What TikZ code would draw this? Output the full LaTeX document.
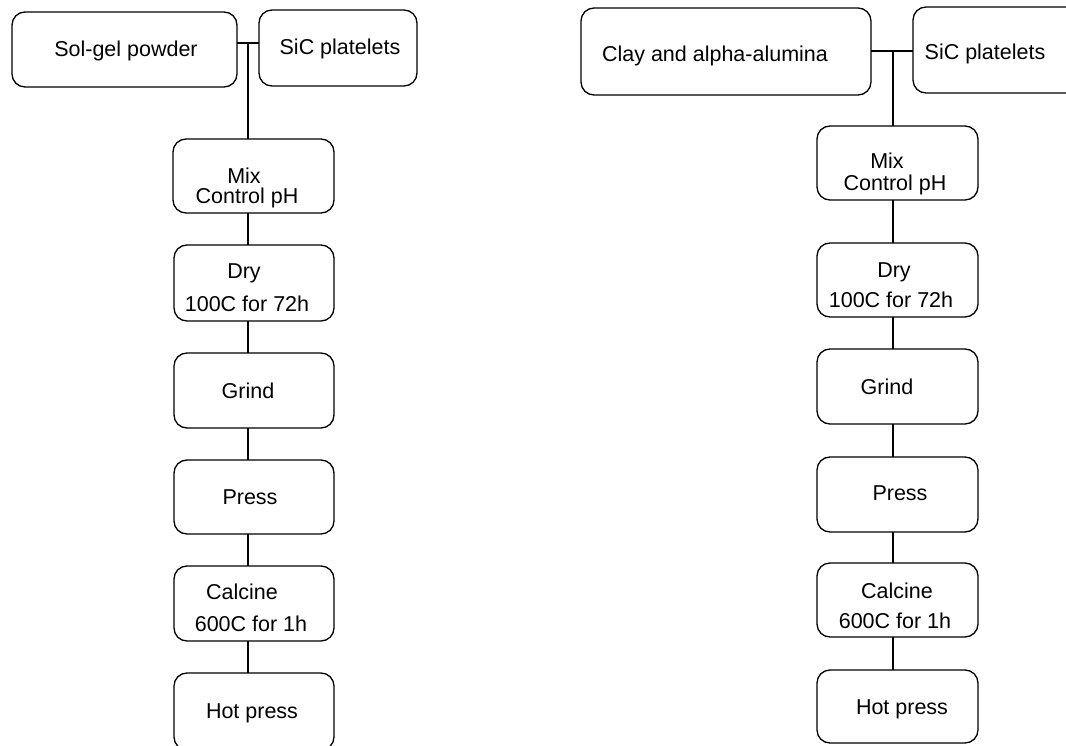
\documentclass[tikz,border=0pt]{standalone}
\usepackage{fontspec}
\setmainfont{Liberation Sans}
\begin{document}
\begin{tikzpicture}[x=1pt,y=-1pt,
  box/.style={draw, line width=1.3pt, rounded corners=13pt, inner sep=0pt, outer sep=0pt, minimum width=160pt},
  lbl/.style={anchor=base, inner sep=0pt, font=\fontsize{21.5}{25}\selectfont},
  conn/.style={line width=1.3pt}]
\useasboundingbox (0,0) rectangle (1066,746);
\clip (0,0) rectangle (1066,746);
% left column boxes
\node[box, minimum width=225pt, minimum height=75pt] (sg) at (124.5,49.5) {};
\node[box, minimum width=158pt, minimum height=76pt] (sicl) at (338,48) {};
\node[box, minimum width=161pt, minimum height=74pt] (mixl) at (253.5,176) {};
\node[box, minimum height=76pt] (dryl) at (254,283) {};
\node[box, minimum height=75pt] (grindl) at (254,390.5) {};
\node[box, minimum height=74pt] (pressl) at (254,497) {};
\node[box, minimum height=75pt] (calcl) at (254,603.5) {};
\node[box, minimum height=77pt] (hotl) at (254,711.5) {};
% right column boxes
\node[box, minimum width=290pt, minimum height=87pt] (clay) at (726,51.5) {};
\node[box, minimum width=167pt, minimum height=86pt] (sicr) at (996.5,50) {};
\node[box, minimum width=161pt, minimum height=74pt] (mixr) at (897.5,163) {};
\node[box, minimum width=161pt, minimum height=74pt] (dryr) at (897.5,280) {};
\node[box, minimum width=161pt, minimum height=75pt] (grindr) at (897.5,386.5) {};
\node[box, minimum width=161pt, minimum height=75pt] (pressr) at (897.5,494.5) {};
\node[box, minimum width=161pt, minimum height=74pt] (calcr) at (897.5,600) {};
\node[box, minimum width=161pt, minimum height=73pt] (hotr) at (897.5,706.5) {};
% left texts
\node[lbl] (tsg) at (126,57) {Sol-gel powder};
\node[lbl] (tsicl) at (340,55) {SiC platelets};
\node[lbl] (tmixl) at (244,184) {Mix};
\node[lbl] (tcpl) at (247,204) {Control pH};
\node[lbl] (tdryl) at (244,279) {Dry};
\node[lbl] (tdryl2) at (247,311) {100C for 72h};
\node[lbl] (tgrindl) at (248,398) {Grind};
\node[lbl] (tpressl) at (250,504) {Press};
\node[lbl] (tcalcl) at (242,599) {Calcine};
\node[lbl] (tcalcl2) at (251,631) {600C for 1h};
\node[lbl] (thotl) at (252,718) {Hot press};
% right texts
\node[lbl] (tclay) at (715,62) {Clay and alpha-alumina};
\node[lbl] (tsicr) at (985,60) {SiC platelets};
\node[lbl] (tmixr) at (887,169) {Mix};
\node[lbl] (tcpr) at (895,191) {Control pH};
\node[lbl] (tdryr) at (894,278) {Dry};
\node[lbl] (tdryr2) at (891,308) {100C for 72h};
\node[lbl] (tgrindr) at (887,394) {Grind};
\node[lbl] (tpressr) at (900,500) {Press};
\node[lbl] (tcalcr) at (897,598) {Calcine};
\node[lbl] (tcalcr2) at (895,628) {600C for 1h};
\node[lbl] (thotr) at (902,714) {Hot press};
% left connectors
\coordinate (jl) at (248,43);
\draw[conn] (sg.east |- jl) -- (sicl.west |- jl);
\draw[conn] (jl) -- (mixl.north -| jl);
\draw[conn] (mixl.south -| jl) -- (dryl.north -| jl);
\draw[conn] (dryl.south -| jl) -- (grindl.north -| jl);
\draw[conn] (grindl.south -| jl) -- (pressl.north -| jl);
\draw[conn] (pressl.south -| jl) -- (calcl.north -| jl);
\draw[conn] (calcl.south -| jl) -- (hotl.north -| jl);
% right connectors
\coordinate (jr) at (893,51);
\draw[conn] (clay.east |- jr) -- (sicr.west |- jr);
\draw[conn] (jr) -- (mixr.north -| jr);
\draw[conn] (mixr.south -| jr) -- (dryr.north -| jr);
\draw[conn] (dryr.south -| jr) -- (grindr.north -| jr);
\draw[conn] (grindr.south -| jr) -- (pressr.north -| jr);
\draw[conn] (pressr.south -| jr) -- (calcr.north -| jr);
\draw[conn] (calcr.south -| jr) -- (hotr.north -| jr);
\end{tikzpicture}
\end{document}
